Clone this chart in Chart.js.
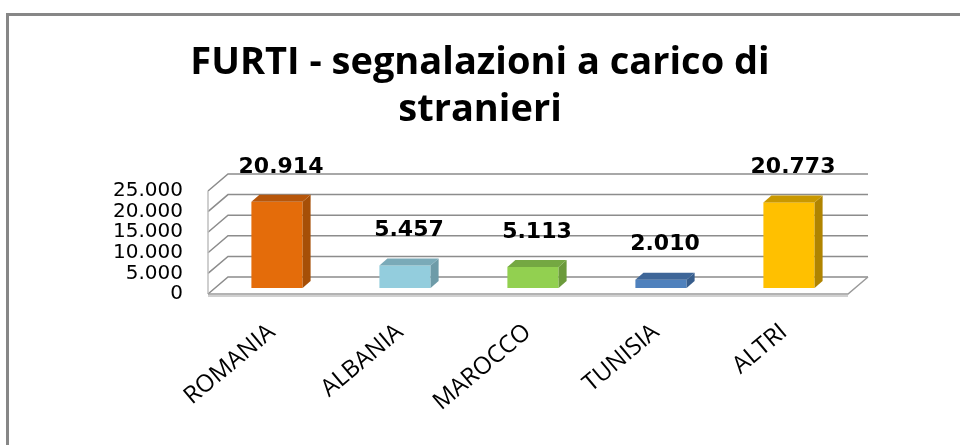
<!DOCTYPE html>
<html>
<head>
<meta charset="utf-8">
<script src="https://cdn.jsdelivr.net/npm/chart.js@4.4.0/dist/chart.umd.min.js"></script>
<style>
  html, body { margin: 0; padding: 0; background: #fff; overflow: hidden; }
  #frame { position: absolute; left: 6px; top: 13px; width: 2000px; height: 2000px; border: 3px solid #878787; }
  #wrap { position: absolute; left: 0; top: 0; width: 960px; height: 445px; }
</style>
</head>
<body>
<div id="frame"></div>
<div id="wrap"><canvas id="chart" width="960" height="445"></canvas></div>
<script>
const categories = ["ROMANIA", "ALBANIA", "MAROCCO", "TUNISIA", "ALTRI"];
const values = [20914, 5457, 5113, 2010, 20773];
const yTicks = [0, 5000, 10000, 15000, 20000, 25000];

const frontColors = ["#E46C0A", "#93CDDD", "#92D050", "#4F81BD", "#FFC000"];
const sideColors = ["#A64F07", "#6E9BA8", "#6B9A3B", "#375D8C", "#B08400"];
const topColors = ["#B7560A", "#7AAAB8", "#74A842", "#3E6698", "#C99800"];

// 25000 -> "25.000"
const fmt = v => String(v).replace(/\B(?=(\d{3})+(?!\d))/g, ".");

// depth of the walls and of the bars
const WALL_DX = 20, WALL_DY = -17;
const BAR_DX = 8, BAR_DY = -7;
// bars sit a little behind the front edge of the floor
const SET_DX = 5, SET_DY = -6;

const wallPlugin = {
  id: "wall3d",
  beforeDatasetsDraw(chart) {
    const { ctx, chartArea: a, scales: { y } } = chart;
    ctx.save();
    ctx.lineWidth = 1.5;
    ctx.strokeStyle = "#8c8c8c";
    yTicks.forEach(v => {
      const py = y.getPixelForValue(v);
      ctx.beginPath();
      ctx.moveTo(a.left, py);
      ctx.lineTo(a.left + WALL_DX, py + WALL_DY);
      ctx.lineTo(a.right + WALL_DX, py + WALL_DY);
      ctx.stroke();
    });
    // left wall front edge
    ctx.strokeStyle = "#bfbfbf";
    ctx.beginPath();
    ctx.moveTo(a.left, a.bottom);
    ctx.lineTo(a.left, y.getPixelForValue(yTicks[yTicks.length - 1]));
    ctx.stroke();
    // floor
    ctx.strokeStyle = "#9a9a9a";
    ctx.beginPath();
    ctx.moveTo(a.left, a.bottom);
    ctx.lineTo(a.right, a.bottom);
    ctx.lineTo(a.right + WALL_DX, a.bottom + WALL_DY);
    ctx.stroke();
    ctx.strokeStyle = "#d0d0d0";
    ctx.lineWidth = 2;
    ctx.beginPath();
    ctx.moveTo(a.left, a.bottom + 2);
    ctx.lineTo(a.right, a.bottom + 2);
    ctx.stroke();
    ctx.restore();
  }
};

const barPlugin = {
  id: "bar3d",
  // the boxes are drawn below as 3D blocks instead
  beforeDatasetDraw() {
    return false;
  },
  afterDatasetsDraw(chart) {
    const { ctx } = chart;
    const meta = chart.getDatasetMeta(0);
    ctx.save();
    meta.data.forEach((bar, i) => {
      const l = bar.x - bar.width / 2 + SET_DX, r = bar.x + bar.width / 2 + SET_DX;
      const t = bar.y + SET_DY, b = bar.base + SET_DY;
      // front face
      ctx.fillStyle = frontColors[i];
      ctx.fillRect(l, t, r - l, b - t);
      // side face
      ctx.fillStyle = sideColors[i];
      ctx.beginPath();
      ctx.moveTo(r, t);
      ctx.lineTo(r + BAR_DX, t + BAR_DY);
      ctx.lineTo(r + BAR_DX, b + BAR_DY);
      ctx.lineTo(r, b);
      ctx.closePath();
      ctx.fill();
      // top face
      ctx.fillStyle = topColors[i];
      ctx.beginPath();
      ctx.moveTo(l, t);
      ctx.lineTo(l + BAR_DX, t + BAR_DY);
      ctx.lineTo(r + BAR_DX, t + BAR_DY);
      ctx.lineTo(r, t);
      ctx.closePath();
      ctx.fill();
      // value label
      ctx.fillStyle = "#000";
      ctx.font = "bold 22px 'DejaVu Sans'";
      ctx.textAlign = "center";
      ctx.textBaseline = "middle";
      ctx.fillText(fmt(values[i]), (l + r) / 2 + BAR_DX / 2, t - 35);
    });
    ctx.restore();
  }
};

new Chart(document.getElementById("chart"), {
  type: "bar",
  data: {
    labels: categories,
    datasets: [{
      data: values,
      backgroundColor: frontColors,
      borderWidth: 0,
      barPercentage: 0.4,
      categoryPercentage: 1
    }]
  },
  options: {
    responsive: false,
    animation: false,
    layout: { padding: { left: 0, right: 0, top: 39, bottom: 0 } },
    plugins: {
      legend: { display: false },
      tooltip: { enabled: false },
      title: {
        display: true,
        text: ["FURTI - segnalazioni a carico di", "stranieri"],
        color: "#000",
        font: { family: "Open Sans", size: 38, weight: "bold", lineHeight: 1.25 },
        padding: { top: 0, bottom: 57 }
      }
    },
    scales: {
      x: {
        grid: { display: false },
        border: { display: false },
        afterFit: s => { s.height = 151; },
        ticks: {
          autoSkip: false,
          minRotation: 40,
          maxRotation: 40,
          padding: 16,
          color: "#000",
          font: { family: "Open Sans", size: 24 }
        }
      },
      y: {
        min: 0,
        max: 25000,
        afterBuildTicks: s => { s.ticks = yTicks.map(v => ({ value: v })); },
        afterFit: s => { s.width = 208; },
        grid: { display: false },
        border: { display: false },
        ticks: {
          autoSkip: false,
          padding: 17,
          color: "#000",
          font: { family: "DejaVu Sans", size: 20 },
          callback: v => fmt(v)
        }
      },
      // empty right axis, only to keep room at the right of the plot
      y2: {
        position: "right",
        grid: { display: false },
        border: { display: false },
        ticks: { display: false },
        afterFit: s => { s.width = 112; }
      }
    }
  },
  plugins: [wallPlugin, barPlugin]
});
</script>
</body>
</html>
